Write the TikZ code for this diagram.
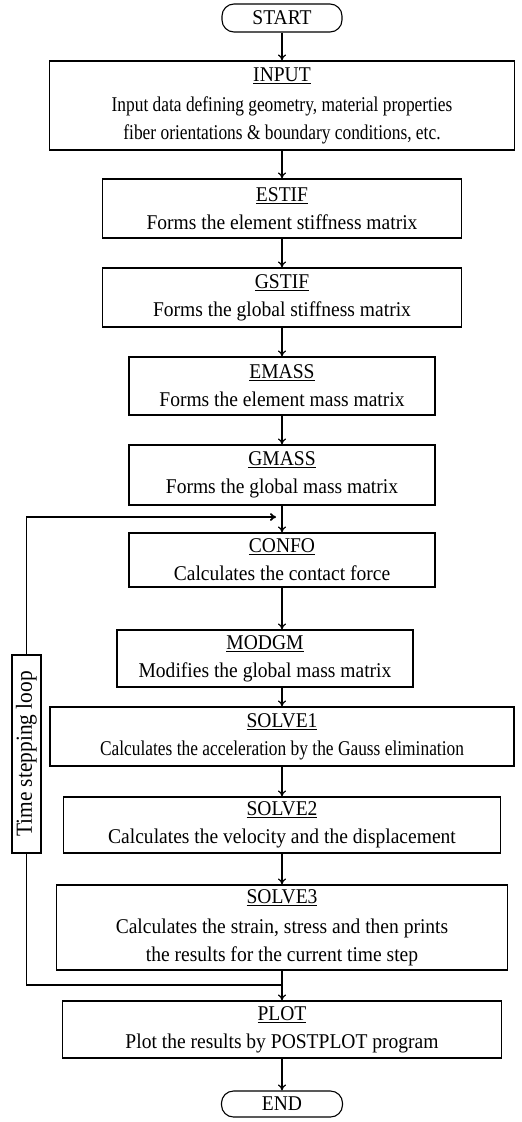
\documentclass[tikz,border=0pt]{standalone}
\usepackage{fontspec}
\setmainfont{Liberation Serif}[FakeStretch=0.93]
\usetikzlibrary{arrows.meta}

\newcommand{\tightline}[1]{\scalebox{0.89}[1]{#1}}

\tikzset{
  box/.style={draw, line width=1.1pt, align=center, inner sep=1pt,
    font=\fontsize{21}{28}\selectfont},
  term/.style={box, rounded corners=12pt},
  flow/.style={line width=1.2pt, -{To[length=6pt,width=8pt]}},
  loopline/.style={line width=1.8pt}
}

\begin{document}
\begin{tikzpicture}[x=1pt,y=-1pt]
\useasboundingbox (0,0) rectangle (522,1122);

\node[term, minimum width=120, minimum height=28] (start) at (282,18) {START};

\node[box, minimum width=465, minimum height=89] (input) at (282,105.5)
  {\underline{INPUT}\\[2pt] \tightline{Input data defining geometry, material properties}\\ \tightline{fiber orientations \& boundary conditions, etc.}};

\node[box, minimum width=359, minimum height=59] (estif) at (282,208.5)
  {\underline{ESTIF}\\ Forms the element stiffness matrix};
\node[box, minimum width=359, minimum height=59] (gstif) at (282,297.5)
  {\underline{GSTIF}\\ Forms the global stiffness matrix};
\node[box, minimum width=306, minimum height=58] (emass) at (282,386)
  {\underline{EMASS}\\ Forms the element mass matrix};
\node[box, minimum width=306, minimum height=60] (gmass) at (282,475)
  {\underline{GMASS}\\ Forms the global mass matrix};
\node[box, minimum width=306, minimum height=54] (confo) at (282,560)
  {\underline{CONFO}\\ Calculates the contact force};
\node[box, minimum width=296, minimum height=57] (modgm) at (265,658.5)
  {\underline{MODGM}\\ Modifies the global mass matrix};
\node[box, minimum width=464, minimum height=59] (solve1) at (282,736.5)
  {\underline{SOLVE1}\\ \tightline{Calculates the acceleration by the Gauss elimination}};
\node[box, minimum width=437, minimum height=56] (solve2) at (282,825)
  {\underline{SOLVE2}\\ Calculates the velocity and the displacement};
\node[box, minimum width=451, minimum height=85] (solve3) at (282,927.5)
  {\underline{SOLVE3}\\[2pt] Calculates the strain, stress and then prints\\ the results for the current time step};
\node[box, minimum width=439, minimum height=57] (plot) at (282,1029.5)
  {\underline{PLOT}\\ Plot the results by POSTPLOT program};

\node[term, minimum width=121, minimum height=26] (end) at (282,1104) {END};

\node[box, minimum width=29, minimum height=198, inner sep=0pt,
  font=\fontsize{23}{28}\selectfont] (loop) at (26.5,754)
  {\rotatebox{90}{Time stepping loop}};

\coordinate (brk) at (282,985);
\coordinate (ret) at (276,517);

\draw[flow] (start) -- (input);
\draw[flow] (input) -- (estif);
\draw[flow] (estif) -- (gstif);
\draw[flow] (gstif) -- (emass);
\draw[flow] (emass) -- (gmass);
\draw[flow] (gmass) -- (confo);
\draw[flow] (confo.south) -- (confo.south |- modgm.north);
\draw[flow] (confo.south |- modgm.south) -- (solve1.north);
\draw[flow] (solve1) -- (solve2);
\draw[flow] (solve2) -- (solve3);
\draw[flow] (solve3) -- (plot);
\draw[flow] (plot) -- (end);

\draw[loopline] (brk) -| (loop.south);
\draw[loopline, -{To[length=6pt,width=8pt]}] (loop.north) |- (ret);
\end{tikzpicture}
\end{document}
